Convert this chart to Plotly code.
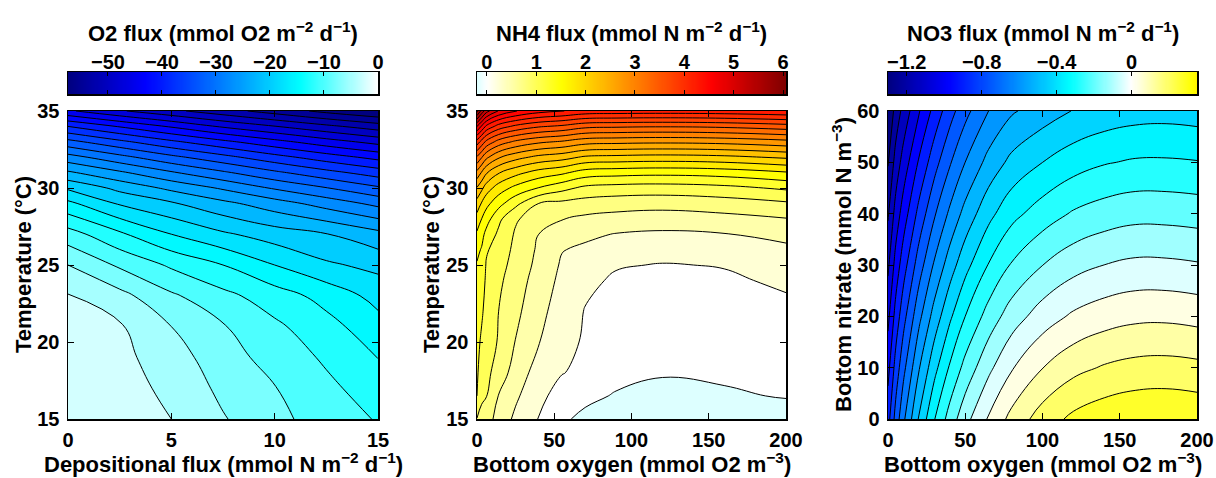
import numpy as np
import plotly.graph_objects as go

# ---------------- data ----------------
# Panel 1: O2 flux, depositional flux (x) vs temperature (y)
dep_flux = [0, 2.5, 5, 7.5, 10, 12.5, 15]
temp_o2 = [15, 17, 19, 21, 23, 25, 27, 29, 30, 31, 32, 33, 34, 35]
o2_flux = [
    [-0.4, -1.3, -2.5, -4.8, -6.85, -8.6, -10.2],
    [-0.7, -1.5, -3.1, -5.6, -7.4, -9.4, -11.3],
    [-1.1, -1.85, -3.8, -6.5, -8.4, -10.4, -12.55],
    [-1.6, -2.2, -5.0, -7.3, -9.5, -11.6, -14.05],
    [-2.35, -4.2, -7.1, -9.3, -11.3, -13.4, -15.85],
    [-5.0, -7.9, -10.4, -12.5, -15.0, -17.1, -18.2],
    [-8.9, -12.05, -15.0, -17.1, -18.7, -19.9, -21.7],
    [-14.4, -17.8, -19.7, -21.85, -23.9, -26.05, -28.2],
    [-17.9, -20.7, -23.1, -25.35, -27.8, -29.9, -32.1],
    [-22.1, -24.57, -27.2, -29.6, -32.0, -34.2, -36.2],
    [-26.5, -29.2, -31.85, -34.2, -36.6, -38.8, -40.8],
    [-31.7, -34.4, -37.0, -39.4, -41.7, -43.9, -45.85],
    [-37.5, -40.2, -42.8, -45.35, -47.4, -49.4, -51.3],
    [-44.6, -47.2, -49.4, -51.5, -53.6, -55.7, -57.4],
]

# Panel 2: NH4 flux, bottom oxygen (x) vs temperature (y)
oxy_nh4 = [0, 3, 6, 14, 25, 40, 55, 70, 90, 120, 160, 200]
temp_nh4 = [15, 16.5, 18, 20, 22, 24, 25, 26, 27, 28, 29, 30, 31, 32, 33, 34, 35]
nh4_flux = [
    [0.99, 0.93, 0.87, 0.65, 0.45, 0.24, 0.02, -0.03, -0.09, -0.20, -0.17, -0.12],
    [1.25, 1.04, 1.01, 0.74, 0.54, 0.32, 0.14, 0.03, -0.01, -0.075, -0.03, 0.015],
    [1.29, 1.11, 1.06, 0.90, 0.63, 0.40, 0.26, 0.19, 0.037, 0.019, 0.037, 0.065],
    [1.34, 1.20, 1.12, 0.98, 0.74, 0.51, 0.32, 0.225, 0.10, 0.08, 0.10, 0.13],
    [1.40, 1.295, 1.15, 1.00, 0.81, 0.575, 0.38, 0.24, 0.16, 0.14, 0.16, 0.20],
    [1.46, 1.39, 1.20, 1.05, 0.87, 0.64, 0.44, 0.30, 0.22, 0.21, 0.22, 0.283],
    [1.48, 1.43, 1.23, 1.09, 0.91, 0.68, 0.47, 0.40, 0.267, 0.24, 0.26, 0.37],
    [1.56, 1.48, 1.28, 1.14, 0.94, 0.71, 0.51, 0.46, 0.38, 0.327, 0.38, 0.45],
    [1.71, 1.583, 1.43, 1.20, 0.97, 0.75, 0.63, 0.547, 0.49, 0.46, 0.49, 0.568],
    [1.90, 1.75, 1.61, 1.31, 1.03, 0.87, 0.76, 0.70, 0.66, 0.63, 0.673, 0.74],
    [2.15, 1.98, 1.83, 1.59, 1.32, 1.00, 0.94, 0.896, 0.864, 0.845, 0.886, 0.965],
    [2.48, 2.31, 2.13, 1.88, 1.68, 1.49, 1.33, 1.19, 1.15, 1.135, 1.18, 1.29],
    [2.93, 2.73, 2.53, 2.27, 2.08, 1.90, 1.80, 1.64, 1.60, 1.575, 1.615, 1.727],
    [3.47, 3.27, 3.06, 2.78, 2.59, 2.43, 2.35, 2.21, 2.18, 2.156, 2.19, 2.29],
    [4.14, 3.91, 3.69, 3.40, 3.20, 3.05, 2.97, 2.85, 2.82, 2.80, 2.83, 2.92],
    [5.00, 4.72, 4.45, 4.14, 3.94, 3.78, 3.70, 3.57, 3.54, 3.52, 3.55, 3.64],
    [6.06, 5.66, 5.35, 4.98, 4.76, 4.59, 4.51, 4.41, 4.39, 4.38, 4.40, 4.46],
]

# Panel 3: NO3 flux, bottom oxygen (x) vs bottom nitrate (y)
oxy_no3 = [0, 5, 10, 20, 30, 40, 50, 65, 80, 100, 120, 140, 160, 180, 200]
nitrate = [0, 10, 20, 30, 40, 50, 60]
no3_flux = [
    [-0.86, -0.72, -0.609, -0.427, -0.282, -0.166, -0.069, 0.044, 0.139, 0.231, 0.29, 0.322, 0.34, 0.344, 0.335],
    [-0.933, -0.798, -0.694, -0.521, -0.382, -0.269, -0.174, -0.062, 0.029, 0.113, 0.17, 0.201, 0.218, 0.222, 0.214],
    [-1.007, -0.877, -0.778, -0.615, -0.482, -0.371, -0.278, -0.168, -0.082, -0.004, 0.049, 0.08, 0.097, 0.099, 0.089],
    [-1.08, -0.955, -0.863, -0.71, -0.582, -0.474, -0.383, -0.275, -0.193, -0.122, -0.071, -0.042, -0.025, -0.026, -0.035],
    [-1.153, -1.033, -0.948, -0.804, -0.681, -0.577, -0.487, -0.381, -0.303, -0.24, -0.191, -0.163, -0.147, -0.148, -0.155],
    [-1.227, -1.112, -1.032, -0.898, -0.781, -0.68, -0.592, -0.488, -0.414, -0.357, -0.312, -0.284, -0.269, -0.268, -0.274],
    [-1.30, -1.19, -1.117, -0.992, -0.881, -0.782, -0.696, -0.593, -0.524, -0.475, -0.432, -0.405, -0.39, -0.386, -0.393],
]

# colour limits / contour levels of each panel
o2_clim = [-57.4, 0.0]
nh4_clim = [-0.2, 6.06]
no3_clim = [-1.30, 0.35]
o2_levels = dict(start=-55.0, end=-2.5, size=2.5)
nh4_levels = dict(start=0.0, end=6.0, size=0.25)
no3_levels = dict(start=-1.2214, end=0.272, size=0.0786)

o2_cb_ticks = [-50, -40, -30, -20, -10, 0]
nh4_cb_ticks = [0, 1, 2, 3, 4, 5, 6]
no3_cb_ticks = [-1.2, -0.8, -0.4, 0]

# ---------------- colour map (diverging, blue - white - red) ----------------
CMAP = [(0, 0, 0.5), (0, 0, 1), (0, 0.5, 1), (0, 1, 1), (1, 1, 1),
        (1, 1, 0), (1, 0.5, 0), (1, 0, 0), (0.5, 0, 0)]


def cmap(v, seg):
    t = v / seg + 4.0
    t = min(max(t, 0.0), 8.0)
    i = min(int(t), 7)
    f = t - i
    c0, c1 = CMAP[i], CMAP[i + 1]
    r, g, b = [int(round(255 * (a + (bb - a) * f))) for a, bb in zip(c0, c1)]
    return f"rgb({r},{g},{b})"


def fill_scale(lv, clim):
    seg = max(abs(clim[0]), abs(clim[1])) / 4.0
    n = int(np.floor((lv["end"] - lv["start"]) / lv["size"] + 1e-6)) + 1
    sc = []
    for k in range(n + 1):
        v = lv["start"] + (k - 1) * lv["size"]
        v = min(max(v, clim[0]), clim[1])
        sc.append([k / n, cmap(v, seg)])
    return sc


def bar_scale(clim, n=80):
    seg = max(abs(clim[0]), abs(clim[1])) / 4.0
    return [[i / n, cmap(clim[0] + (clim[1] - clim[0]) * i / n, seg)] for i in range(n + 1)]


W, H = 1216, 478


def px(x):
    return x / W


def py(y):
    return 1 - y / H


FONT = "Liberation Sans, Arial, Helvetica, sans-serif"
TICKF = dict(family=FONT, size=20, color="black", weight="bold")
TITLEF = dict(family=FONT, size=22, color="black", weight="bold")

panels = [
    (dep_flux, temp_o2, o2_flux, o2_levels, o2_clim, o2_cb_ticks, 68, 378),
    (oxy_nh4, temp_nh4, nh4_flux, nh4_levels, nh4_clim, nh4_cb_ticks, 477, 786),
    (oxy_no3, nitrate, no3_flux, no3_levels, no3_clim, no3_cb_ticks, 888, 1197),
]

fig = go.Figure()
layout = dict(template="none", width=W, height=H, autosize=False,
              margin=dict(l=0, r=0, t=0, b=0, pad=0, autoexpand=False),
              paper_bgcolor="white", plot_bgcolor="white", showlegend=False,
              font=dict(family=FONT, color="black"))

x_ranges = [[0, 15], [0, 200], [0, 200]]
y_ranges = [[15, 35], [15, 35], [0, 60]]
x_ticks = [[0, 5, 10, 15], [0, 50, 100, 150, 200], [0, 50, 100, 150, 200]]
y_ticks = [[15, 20, 25, 30, 35], [15, 20, 25, 30, 35], [0, 10, 20, 30, 40, 50, 60]]

for i, (xs, ys, zz, lv, clim, cbt, x0, x1) in enumerate(panels):
    ax = "" if i == 0 else str(i + 1)
    fig.add_trace(go.Contour(
        x=xs, y=ys, z=zz, xaxis="x" + ax, yaxis="y" + ax,
        autocontour=False,
        contours=dict(start=lv["start"], end=lv["end"], size=lv["size"],
                      coloring="fill", showlines=True),
        colorscale=fill_scale(lv, clim), showscale=False,
        line=dict(color="black", width=1, smoothing=1.2),
        hoverinfo="skip"))
    layout["xaxis" + ax] = dict(
        domain=[px(x0), px(x1)], range=x_ranges[i], tickvals=x_ticks[i],
        ticks="inside", ticklen=6, tickwidth=1, tickcolor="black",
        showline=True, linecolor="black", linewidth=1.5, mirror="ticks",
        showgrid=False, zeroline=False, tickfont=TICKF, ticklabelstandoff=2,
        automargin=False, anchor="y" + ax)
    layout["yaxis" + ax] = dict(
        domain=[py(419), py(111)], range=y_ranges[i], tickvals=y_ticks[i],
        ticks="inside", ticklen=6, tickwidth=1, tickcolor="black",
        showline=True, linecolor="black", linewidth=1.5, mirror="ticks",
        showgrid=False, zeroline=False, tickfont=TICKF, ticklabelstandoff=3,
        automargin=False, anchor="x" + ax)

    # colour bar drawn as a thin heatmap in its own axes
    cb = str(i + 4)
    bar_vals = np.linspace(clim[0], clim[1], 300)
    fig.add_trace(go.Heatmap(
        x=bar_vals, y=[0], z=[bar_vals], xaxis="x" + cb, yaxis="y" + cb,
        colorscale=bar_scale(clim), zmin=clim[0], zmax=clim[1],
        showscale=False, hoverinfo="skip"))
    layout["xaxis" + cb] = dict(
        domain=[px(x0), px(x1)], range=clim, tickvals=cbt, side="top",
        ticks="inside", ticklen=4, tickwidth=1, tickcolor="black",
        showline=True, linecolor="black", linewidth=1.5, mirror="ticks",
        showgrid=False, zeroline=False, tickfont=TICKF, ticklabelstandoff=-6,
        automargin=False, anchor="y" + cb)
    layout["yaxis" + cb] = dict(
        domain=[py(94), py(72)], range=[-0.5, 0.5], showticklabels=False,
        ticks="", showline=True, linecolor="black", linewidth=1.5, mirror=True,
        showgrid=False, zeroline=False, automargin=False, anchor="x" + cb)

annotations = []
cb_titles = ["O2 flux (mmol O2 m<sup>−2</sup> d<sup>−1</sup>)",
             "NH4 flux (mmol N m<sup>−2</sup> d<sup>−1</sup>)",
             "NO3 flux (mmol N m<sup>−2</sup> d<sup>−1</sup>)"]
x_titles = ["Depositional flux (mmol N m<sup>−2</sup> d<sup>−1</sup>)",
            "Bottom oxygen (mmol O2 m<sup>−3</sup>)",
            "Bottom oxygen (mmol O2 m<sup>−3</sup>)"]
y_titles = ["Temperature (°C)", "Temperature (°C)",
            "Bottom nitrate (mmol N m<sup>−3</sup>)"]
y_title_x = [23, 431, 842]
for i, (_, _, _, _, _, _, x0, x1) in enumerate(panels):
    cx = (x0 + x1) / 2
    annotations.append(dict(text=cb_titles[i], x=px(cx), y=py(32), xref="paper", yref="paper",
                            xanchor="center", yanchor="middle", showarrow=False, font=TITLEF))
    annotations.append(dict(text=x_titles[i], x=px(cx), y=py(463), xref="paper", yref="paper",
                            xanchor="center", yanchor="middle", showarrow=False, font=TITLEF))
    annotations.append(dict(text=y_titles[i], x=px(y_title_x[i]), y=py(265), xref="paper",
                            yref="paper", xanchor="center", yanchor="middle", textangle=-90,
                            showarrow=False, font=TITLEF))
layout["annotations"] = annotations

fig.update_layout(**layout)
fig.write_html("out.html",
               config={"displayModeBar": False, "staticPlot": True},
               post_script="document.body.style.margin='0';"
                           "document.body.style.overflow='hidden';")
